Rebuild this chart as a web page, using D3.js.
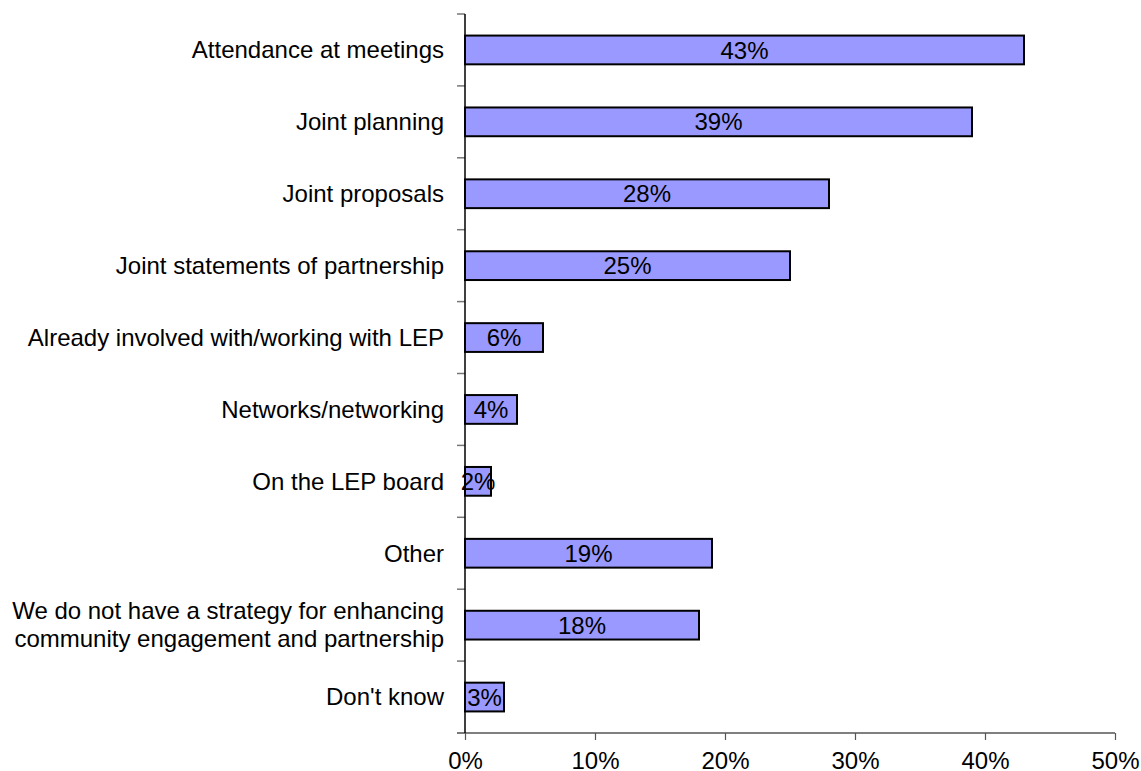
<!DOCTYPE html>
<html>
<head>
<meta charset="utf-8">
<script src="https://cdn.jsdelivr.net/npm/d3@7/dist/d3.min.js"></script>
<style>
  html, body { margin: 0; padding: 0; background: #fff; }
  svg { display: block; font-family: Arial, "Liberation Sans", sans-serif; }
</style>
</head>
<body>
<svg id="chart" width="1141" height="771"></svg>
<script>
// Survey responses: ways of partnering with the LEP
const categories = [
  "Attendance at meetings",
  "Joint planning",
  "Joint proposals",
  "Joint statements of partnership",
  "Already involved with/working with LEP",
  "Networks/networking",
  "On the LEP board",
  "Other",
  "We do not have a strategy for enhancing\ncommunity engagement and partnership",
  "Don't know"
];
const values = [43, 39, 28, 25, 6, 4, 2, 19, 18, 3];
const xTicks = [0, 10, 20, 30, 40, 50];

const svg = d3.select("#chart");
const plotLeft = 465, plotRight = 1115, plotTop = 14, plotBottom = 733;
const fontSize = 24;

const x = d3.scaleLinear().domain([0, 50]).range([plotLeft, plotRight]);
const y = d3.scaleBand().domain(categories).range([plotTop, plotBottom]).paddingInner(0.6).paddingOuter(0.3);
const yb = d3.scaleBand().domain(categories).range([plotTop, plotBottom]);

// horizontal axis
const xAxis = svg.append("g").attr("transform", `translate(0,${plotBottom})`)
  .call(d3.axisBottom(x).tickValues(xTicks).tickFormat(d => d + "%").tickSizeInner(7).tickSizeOuter(0));
xAxis.select(".domain").remove();
xAxis.append("line").attr("x1", plotLeft - 8).attr("x2", plotRight).attr("y1", 0).attr("y2", 0)
  .attr("stroke", "#555").attr("stroke-width", 1.5);
xAxis.selectAll(".tick line").attr("stroke", "#555").attr("stroke-width", 1.2);
xAxis.selectAll(".tick text").attr("fill", "#000").attr("font-size", fontSize).attr("dy", 0).attr("y", 36)
  .attr("font-family", "Arial, 'Liberation Sans', sans-serif");

// vertical axis: category boundary ticks
const bounds = categories.map(c => yb(c)).concat([plotBottom]);
svg.append("g").selectAll("line").data(bounds).join("line")
  .attr("x1", plotLeft - 8).attr("x2", plotLeft).attr("y1", d => d).attr("y2", d => d)
  .attr("stroke", "#777").attr("stroke-width", 1.5);
svg.append("line").attr("x1", plotLeft).attr("x2", plotLeft).attr("y1", plotTop).attr("y2", plotBottom)
  .attr("stroke", "#000").attr("stroke-width", 1.5);

// category labels
const labels = svg.append("g").selectAll("text").data(categories).join("text")
  .attr("text-anchor", "end").attr("font-size", fontSize).attr("fill", "#000")
  .attr("x", plotLeft - 21)
  .attr("y", d => yb(d) + yb.bandwidth() / 2);
labels.each(function(d) {
  const lines = d.split("\n");
  const t = d3.select(this);
  lines.forEach((ln, i) => {
    t.append("tspan").attr("x", plotLeft - 21)
      .attr("dy", i === 0 ? (0.35 - (lines.length - 1) * 0.62) + "em" : "1.17em")
      .text(ln);
  });
});

// bars
svg.append("g").selectAll("rect").data(values).join("rect")
  .attr("x", x(0))
  .attr("y", (d, i) => y(categories[i]))
  .attr("width", d => x(d) - x(0))
  .attr("height", y.bandwidth())
  .attr("fill", "#9999FF").attr("stroke", "#000").attr("stroke-width", 2);

// value labels
svg.append("g").selectAll("text").data(values).join("text")
  .attr("x", d => (x(0) + x(d)) / 2)
  .attr("y", (d, i) => y(categories[i]) + y.bandwidth() / 2)
  .attr("dy", "0.36em").attr("text-anchor", "middle")
  .attr("font-size", fontSize).attr("fill", "#000")
  .text(d => d + "%");
</script>
</body>
</html>
